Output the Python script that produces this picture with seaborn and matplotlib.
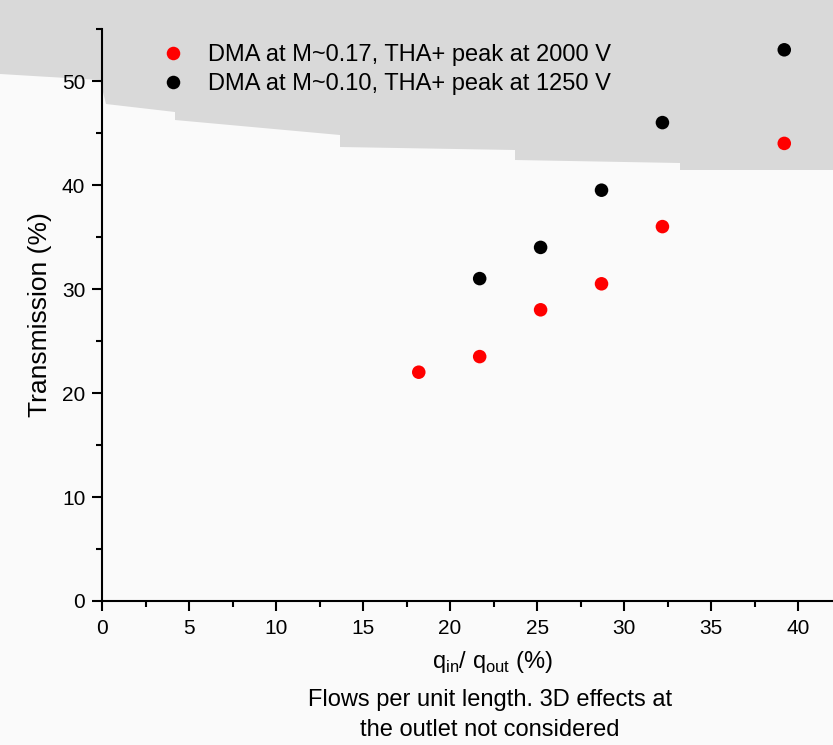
import pandas as pd
import numpy as np
import matplotlib.pyplot as plt
import seaborn as sns
from matplotlib.patches import Polygon
from matplotlib.ticker import MultipleLocator

# Dados
serie_vermelha = "DMA at M~0.17, THA+ peak at 2000 V"
serie_preta = "DMA at M~0.10, THA+ peak at 1250 V"
q_vermelha = [18.2, 21.7, 25.2, 28.7, 32.2, 39.2]
trans_vermelha = [22.0, 23.5, 28.0, 30.5, 36.0, 44.0]
q_preta = [21.7, 25.2, 28.7, 32.2, 39.2]
trans_preta = [31.0, 34.0, 39.5, 46.0, 53.0]

df = pd.DataFrame({
    "q": q_vermelha + q_preta,
    "Transmissao": trans_vermelha + trans_preta,
    "Serie": [serie_vermelha] * len(q_vermelha) + [serie_preta] * len(q_preta),
})

sns.set_style("ticks")
plt.rcParams['font.family'] = ['Liberation Sans', 'DejaVu Sans']
plt.rcParams['text.color'] = 'black'
plt.rcParams['axes.labelcolor'] = 'black'

fig = plt.figure(figsize=(8.33, 7.45), dpi=100, facecolor='#fafafa')

# fundo cinza no topo (como na imagem original)
W, H = 833, 745
borda = [(0, 0), (833, 0), (833, 170), (680, 170), (680, 163), (515, 160), (515, 150),
         (340, 147), (340, 135), (175, 120), (175, 112), (106, 104), (100, 80), (0, 74)]
fundo = Polygon([(x / W, 1 - y / H) for x, y in borda], closed=True,
                transform=fig.transFigure, facecolor='#d9d9d9', edgecolor='none', zorder=-5)
fig.patches.append(fundo)

ax = fig.add_axes([102 / W, 1 - 601 / H, 1 - 102 / W, (601 - 29) / H])
ax.set_facecolor('none')

sns.scatterplot(data=df, x="q", y="Transmissao", hue="Serie",
                palette={serie_vermelha: '#ff0000', serie_preta: '#000000'},
                s=95, edgecolor='none', ax=ax)

ax.set_xlim(0, 42)
ax.set_ylim(0, 55)
ax.xaxis.set_major_locator(MultipleLocator(5))
ax.xaxis.set_minor_locator(MultipleLocator(2.5))
ax.yaxis.set_major_locator(MultipleLocator(10))
ax.yaxis.set_minor_locator(MultipleLocator(5))
ax.tick_params(which='major', direction='out', length=7, width=1.5, labelsize=15,
               colors='black', labelcolor='black')
ax.tick_params(axis='x', which='major', pad=6)
ax.tick_params(axis='y', which='major', pad=5)
ax.tick_params(which='minor', direction='out', length=4, width=1.5, colors='black')
sns.despine(ax=ax)
for s in ['left', 'bottom']:
    ax.spines[s].set_linewidth(1.5)
    ax.spines[s].set_color('black')

ax.set_xlabel('')
ax.set_ylabel('Transmission (%)', fontsize=19, labelpad=7, color='black')

# rotulo do eixo x e legenda inferior
fig.text(493 / W, 1 - 662 / H, r'q$_{\mathregular{in}}$/ q$_{\mathregular{out}}$ (%)',
         ha='center', va='center', fontsize=17, color='black')
fig.text(490 / W, 1 - 715 / H, 'Flows per unit length. 3D effects at\nthe outlet not considered',
         ha='center', va='center', fontsize=17, linespacing=1.45, color='black')

leg = ax.legend(loc='upper left', bbox_to_anchor=(138 / W, 1 - 32 / H),
                bbox_transform=fig.transFigure, frameon=False, fontsize=17,
                handletextpad=0.45, labelspacing=0.3, markerscale=1.0, borderpad=0)
for t in leg.get_texts():
    t.set_color('black')

fig.savefig('out.png', dpi=100, facecolor=fig.get_facecolor())
